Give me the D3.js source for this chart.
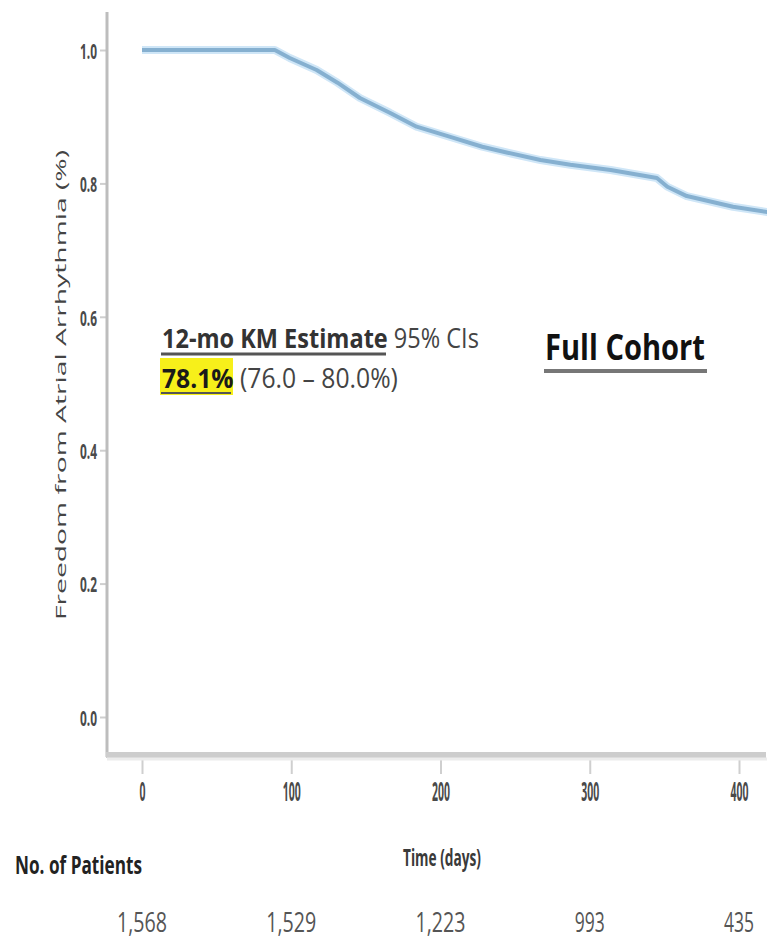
<!DOCTYPE html>
<html>
<head>
<meta charset="utf-8">
<script src="https://cdn.jsdelivr.net/npm/d3@7/dist/d3.min.js"></script>
<style>
  html, body { margin: 0; padding: 0; background: #fff; }
  svg { display: block; }
  text { font-family: "Liberation Sans Narrow", "Open Sans", "Liberation Sans", sans-serif; }
</style>
</head>
<body>
<svg id="chart" width="767" height="946"></svg>
<script>
// Kaplan-Meier survival: freedom from atrial arrhythmia, full cohort
const kmDays     = [0, 89, 99, 117, 131, 146, 166, 184, 206, 228, 245, 267, 287, 314, 345, 352, 365, 396, 419, 430];
const kmSurvival = [1.0, 1.0, 0.988, 0.970, 0.951, 0.928, 0.906, 0.885, 0.870, 0.855, 0.846, 0.835, 0.828, 0.820, 0.808, 0.795, 0.781, 0.765, 0.757, 0.752];

// Axis ticks
const xTicks = [0, 100, 200, 300, 400];
const yTicks = [0.0, 0.2, 0.4, 0.6, 0.8, 1.0];

// Number at risk under the axis
const riskDays     = [0, 100, 200, 300, 400];
const riskPatients = [1568, 1529, 1223, 993, 435];

// 12-month estimate
const kmEstimate = 78.1;
const ciLow = 76.0, ciHigh = 80.0;

const svg = d3.select("#chart");

// Squeeze a text horizontally to a target width, keeping its anchor point fixed
function condense(sel, widthFn) {
  sel.each(function(d, i) {
    const t = d3.select(this);
    const w = this.getComputedTextLength();
    const target = typeof widthFn === "function" ? widthFn(d, i) : widthFn;
    const s = w > 0 ? target / w : 1;
    const ax = +t.attr("x") || 0, ay = +t.attr("y") || 0;
    t.attr("transform", `translate(${ax},${ay}) scale(${s},1) translate(${-ax},${-ay})`);
  });
}

const x = d3.scaleLinear().domain([0, 400]).range([142, 739]);
const y = d3.scaleLinear().domain([0, 1]).range([717, 50]);

const axisX = 107, axisY = 755;

// Y axis
const yAxis = d3.axisLeft(y)
  .tickValues(yTicks)
  .tickSize(7)
  .tickPadding(3)
  .tickFormat(d3.format(".1f"));
const gy = svg.append("g").attr("transform", `translate(${axisX},0)`).call(yAxis);
gy.select(".domain").remove();
gy.selectAll(".tick line").attr("stroke", "#cfcfcf").attr("stroke-width", 2);
gy.selectAll(".tick text")
  .attr("fill", "#4a4a4a")
  .attr("font-size", 22)
  .attr("font-weight", "bold")
  .attr("dy", "0.38em")
  .call(condense, 17);
svg.append("line")
  .attr("x1", axisX).attr("x2", axisX)
  .attr("y1", 12).attr("y2", axisY + 2)
  .attr("stroke", "#bdbdbd").attr("stroke-width", 3);

// X axis
const xAxis = d3.axisBottom(x)
  .tickValues(xTicks)
  .tickSize(17)
  .tickPadding(8);
const gx = svg.append("g").attr("transform", `translate(0,${axisY + 2})`).call(xAxis);
gx.select(".domain").remove();
gx.selectAll(".tick line").attr("stroke", "#cfcfcf").attr("stroke-width", 2);
gx.selectAll(".tick text")
  .attr("fill", "#4a4a4a")
  .attr("font-size", 27)
  .attr("font-weight", "bold")
  .call(condense, d => String(d).length === 1 ? 6 : 18);
svg.append("rect")
  .attr("x", axisX - 1).attr("y", axisY - 3)
  .attr("width", 767 - axisX).attr("height", 6)
  .attr("fill", "#cdcdcd");
svg.append("line")
  .attr("x1", axisX).attr("x2", 767)
  .attr("y1", axisY + 4).attr("y2", axisY + 4)
  .attr("stroke", "#ececec").attr("stroke-width", 3);

// Axis titles
svg.append("text")
  .attr("transform", `translate(66,385) rotate(-90)`)
  .attr("text-anchor", "middle")
  .attr("font-family", "'Liberation Sans', Arial, sans-serif")
  .attr("font-size", 15)
  .attr("fill", "#444")
  .attr("textLength", 470)
  .attr("lengthAdjust", "spacingAndGlyphs")
  .text("Freedom from Atrial Arrhythmia (%)");

svg.append("text")
  .attr("x", 403).attr("y", 866)
  .attr("font-size", 24)
  .attr("font-weight", "bold")
  .attr("fill", "#3a3a3a")
  .text("Time (days)")
  .call(condense, 78);

// Survival curve
const line = d3.line()
  .x((d, i) => x(kmDays[i]))
  .y(d => y(d))
  .curve(d3.curveLinear);
svg.append("path")
  .datum(kmSurvival)
  .attr("d", line)
  .attr("fill", "none")
  .attr("stroke", "#cfe6f7")
  .attr("stroke-width", 8)
  .attr("stroke-linejoin", "round");
svg.append("path")
  .datum(kmSurvival)
  .attr("d", line)
  .attr("fill", "none")
  .attr("stroke", "#86b0d0")
  .attr("stroke-width", 4)
  .attr("stroke-linejoin", "round");

// Number at risk
svg.append("text")
  .attr("x", 15).attr("y", 874)
  .attr("font-size", 25)
  .attr("font-weight", "bold")
  .attr("fill", "#222")
  .text("No. of Patients")
  .call(condense, 127);

const fmt = d3.format(",");
svg.selectAll(".risk")
  .data(riskPatients)
  .enter().append("text")
  .attr("class", "risk")
  .attr("x", (d, i) => x(riskDays[i]))
  .attr("y", 932)
  .attr("text-anchor", "middle")
  .attr("font-size", 27)
  .attr("fill", "#555")
  .text(d => fmt(d))
  .call(condense, d => fmt(d).length * 10);

// 12-month KM estimate annotation
const est1 = svg.append("text")
  .attr("x", 162).attr("y", 348)
  .attr("font-size", 27)
  .attr("fill", "#444");
est1.append("tspan").attr("font-weight", "bold").attr("fill", "#333").text("12-mo KM Estimate");
est1.append("tspan").text(" 95% CIs");
est1.call(condense, 317);
svg.append("line")
  .attr("x1", 161).attr("x2", 386)
  .attr("y1", 354).attr("y2", 354)
  .attr("stroke", "#555").attr("stroke-width", 3);

svg.append("rect")
  .attr("x", 160).attr("y", 358)
  .attr("width", 73).attr("height", 37)
  .attr("fill", "#f7f01a");
const est2 = svg.append("text")
  .attr("x", 162).attr("y", 388)
  .attr("font-size", 27)
  .attr("fill", "#444");
est2.append("tspan").attr("font-weight", "bold").attr("fill", "#1a1a1a").text(`${kmEstimate.toFixed(1)}%`);
est2.append("tspan").text(` (${ciLow.toFixed(1)} \u2013 ${ciHigh.toFixed(1)}%)`);
est2.call(condense, 236);
svg.append("line")
  .attr("x1", 161).attr("x2", 231)
  .attr("y1", 393).attr("y2", 393)
  .attr("stroke", "#555").attr("stroke-width", 2);

// Cohort title
svg.append("text")
  .attr("x", 545).attr("y", 360)
  .attr("font-size", 36)
  .attr("font-weight", "bold")
  .attr("fill", "#111")
  .text("Full Cohort")
  .call(condense, 160);
svg.append("line")
  .attr("x1", 544).attr("x2", 707)
  .attr("y1", 371).attr("y2", 371)
  .attr("stroke", "#777").attr("stroke-width", 4);
</script>
</body>
</html>
